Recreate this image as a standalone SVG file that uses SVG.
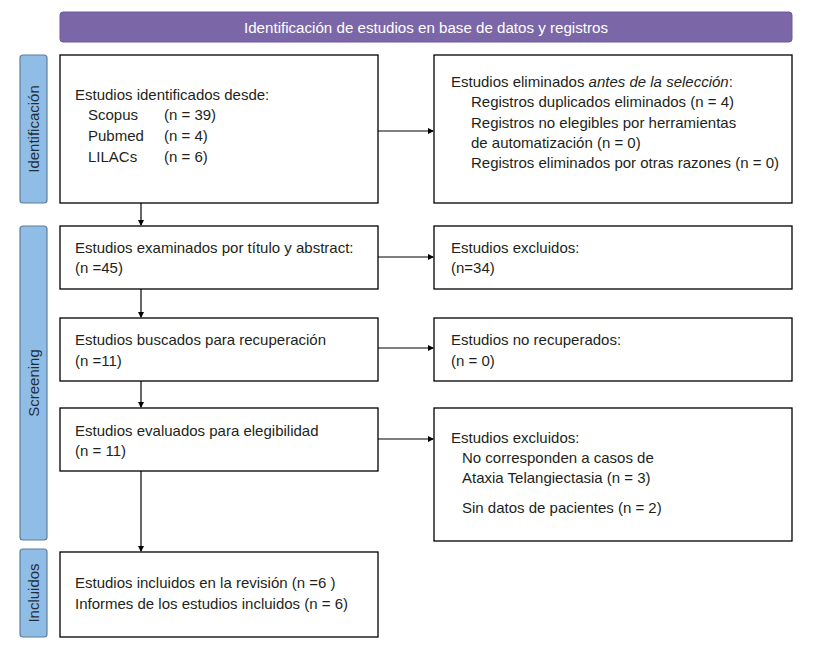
<svg xmlns="http://www.w3.org/2000/svg" width="814" height="661" viewBox="0 0 814 661">
<defs>
<marker id="ah" markerWidth="6" markerHeight="6" refX="5" refY="3" orient="auto" markerUnits="userSpaceOnUse">
<path d="M0,0 L6,3 L0,6 Z" fill="#000"/>
</marker>
<style>
.box{fill:#fff;stroke:#000;stroke-width:1.3}
.side{fill:#8fbde5;stroke:#5f7d9c;stroke-width:1.2}
.t{font-family:"Liberation Sans",Arial,sans-serif;font-size:15px;fill:#231f20}
.st{font-family:"Liberation Sans",Arial,sans-serif;font-size:15px;fill:#1f2f40;text-anchor:middle}
.c{stroke:#000;stroke-width:1.2;fill:none;marker-end:url(#ah)}
</style>
</defs>
<rect width="814" height="661" fill="#fff"/>
<g id="header">
<rect x="60" y="12" width="732" height="30" rx="3" fill="#7b67a7" stroke="#6b5a9a" stroke-width="1"/>
<text x="426" y="33" font-family="Liberation Sans, Arial, sans-serif" font-size="15.5" fill="#fff" text-anchor="middle" textLength="364" lengthAdjust="spacingAndGlyphs">Identificación de estudios en base de datos y registros</text>
</g>
<g id="side-identificacion">
<rect class="side" x="20" y="55" width="27" height="148" rx="3"/>
<text class="st" transform="translate(39,129) rotate(-90)">Identificación</text>
</g>
<g id="side-screening">
<rect class="side" x="20" y="226" width="27" height="314" rx="3"/>
<text class="st" transform="translate(39,383) rotate(-90)">Screening</text>
</g>
<g id="side-incluidos">
<rect class="side" x="20" y="549" width="27" height="88" rx="3"/>
<text class="st" transform="translate(39,593) rotate(-90)">Incluidos</text>
</g>
<g id="n-identificados">
<rect class="box" x="60" y="55" width="318" height="148"/>
<text class="t" x="75" y="100">Estudios identificados desde:</text>
<text class="t" x="88" y="120">Scopus</text><text class="t" x="164" y="120">(n = 39)</text>
<text class="t" x="88" y="141">Pubmed</text><text class="t" x="164" y="141">(n = 4)</text>
<text class="t" x="88" y="162">LILACs</text><text class="t" x="164" y="162">(n = 6)</text>
</g>
<g id="n-eliminados">
<rect class="box" x="434" y="55" width="358" height="148"/>
<text class="t" x="451" y="87">Estudios eliminados <tspan font-style="italic">antes de la selección</tspan>:</text>
<text class="t" x="471" y="107">Registros duplicados eliminados (n = 4)</text>
<text class="t" x="471" y="128">Registros no elegibles por herramientas</text>
<text class="t" x="471" y="148">de automatización (n = 0)</text>
<text class="t" x="471" y="168">Registros eliminados por otras razones (n = 0)</text>
</g>
<g id="n-examinados">
<rect class="box" x="60" y="226" width="318" height="63"/>
<text class="t" x="75" y="253">Estudios examinados por título y abstract:</text>
<text class="t" x="75" y="273">(n =45)</text>
</g>
<g id="n-excluidos1">
<rect class="box" x="434" y="226" width="358" height="63"/>
<text class="t" x="451" y="253">Estudios excluidos:</text>
<text class="t" x="451" y="273">(n=34)</text>
</g>
<g id="n-buscados">
<rect class="box" x="60" y="318" width="318" height="63"/>
<text class="t" x="75" y="345">Estudios buscados para recuperación</text>
<text class="t" x="75" y="366">(n =11)</text>
</g>
<g id="n-norecuperados">
<rect class="box" x="434" y="318" width="358" height="63"/>
<text class="t" x="451" y="345">Estudios no recuperados:</text>
<text class="t" x="451" y="366">(n = 0)</text>
</g>
<g id="n-evaluados">
<rect class="box" x="60" y="408" width="318" height="63"/>
<text class="t" x="75" y="436">Estudios evaluados para elegibilidad</text>
<text class="t" x="75" y="456">(n = 11)</text>
</g>
<g id="n-excluidos2">
<rect class="box" x="434" y="408" width="358" height="133"/>
<text class="t" x="451" y="443">Estudios excluidos:</text>
<text class="t" x="462" y="463">No corresponden a casos de</text>
<text class="t" x="462" y="483">Ataxia Telangiectasia (n = 3)</text>
<text class="t" x="462" y="513">Sin datos de pacientes (n = 2)</text>
</g>
<g id="n-incluidos">
<rect class="box" x="60" y="552" width="318" height="85"/>
<text class="t" x="75" y="588">Estudios incluidos en la revisión (n =6 )</text>
<text class="t" x="75" y="609">Informes de los estudios incluidos (n = 6)</text>
</g>
<g id="connectors">
<line class="c" x1="141" y1="203" x2="141" y2="225"/>
<line class="c" x1="141" y1="289" x2="141" y2="317"/>
<line class="c" x1="141" y1="381" x2="141" y2="407"/>
<line class="c" x1="141" y1="471" x2="141" y2="551"/>
<line class="c" x1="378" y1="131" x2="433" y2="131"/>
<line class="c" x1="378" y1="257" x2="433" y2="257"/>
<line class="c" x1="378" y1="348" x2="433" y2="348"/>
<line class="c" x1="378" y1="439" x2="433" y2="439"/>
</g>
</svg>
